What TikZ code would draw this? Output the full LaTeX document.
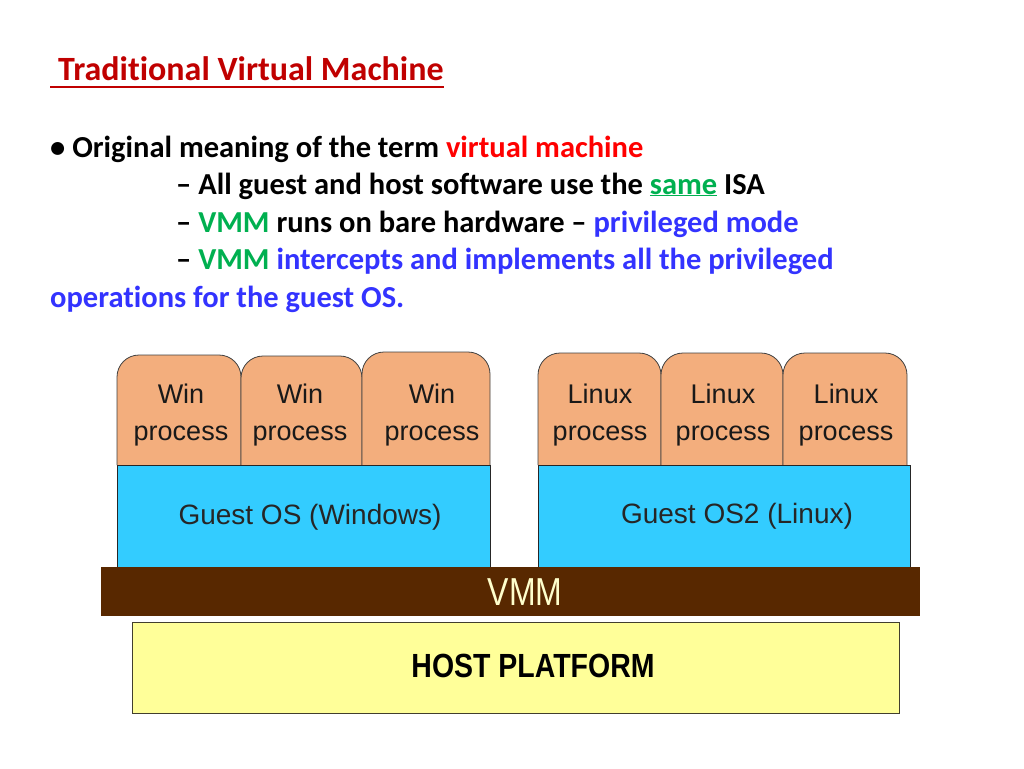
\documentclass[tikz,border=0pt]{standalone}
\usepackage{fontspec}
\setmainfont[Ligatures={NoCommon}]{Carlito}
\newfontfamily\arialf{Liberation Sans}
\definecolor{titlered}{HTML}{C00000}
\definecolor{vred}{HTML}{FF0000}
\definecolor{vgreen}{HTML}{00B050}
\definecolor{vblue}{HTML}{3333FF}
\definecolor{procfill}{HTML}{F3AE7D}
\definecolor{osfill}{HTML}{33CCFF}
\definecolor{vmmfill}{HTML}{582800}
\definecolor{hostfill}{HTML}{FFFF99}
\definecolor{vmmtext}{HTML}{FFFFCC}
\tikzset{
  txt/.style={anchor=base west, inner sep=0pt, font=\fontsize{30.5}{37}\selectfont\bfseries},
  proc/.style={fill=procfill, draw=black!75, line width=0.8pt, rounded corners=22},
  ptext/.style={align=center, inner sep=0pt, font=\arialf\fontsize{27}{37}\selectfont, text=black!90},
  osbox/.style={fill=osfill, draw=black!85, line width=0.8pt},
  ostext/.style={inner sep=0pt, font=\arialf\fontsize{28}{34}\selectfont, text=black!85}
}
\begin{document}
\begin{tikzpicture}[x=1pt,y=-1pt]
\useasboundingbox (0,0) rectangle (1024,768);
% title
\node[txt, text=titlered, font=\fontsize{34}{42}\selectfont\bfseries] (title) at (58,80) {Traditional Virtual Machine};
\draw[titlered, line width=2pt] (50,87) -- (444,87);
% bullets
\node[txt] (l1) at (50,157) {• Original meaning of the term \textcolor{vred}{virtual machine}};
\node[txt] (l2) at (176,194) {– All guest and host software use the \textcolor{vgreen}{\underline{same}} ISA};
\node[txt] (l3) at (176,232) {– \textcolor{vgreen}{VMM} runs on bare hardware – \textcolor{vblue}{privileged mode}};
\node[txt] (l4) at (176,269) {– \textcolor{vgreen}{VMM} \textcolor{vblue}{intercepts and implements all the privileged}};
\node[txt, text=vblue] (l5) at (50,307) {operations for the guest OS.};
% win processes
\path[proc] (117,465) -- (117,355) -- (241,355) -- (241,465);
\path[proc] (241,465) -- (241,356) -- (362,356) -- (362,465);
\path[proc] (362,465) -- (362,352) -- (490,352) -- (490,465);
\node[ptext] (w1) at (181,415) {Win\\process};
\node[ptext] (w2) at (300,415) {Win\\process};
\node[ptext] (w3) at (432,415) {Win\\process};
% linux processes
\path[proc] (538,465) -- (538,353) -- (661,353) -- (661,465);
\path[proc] (661,465) -- (661,353) -- (783,353) -- (783,465);
\path[proc] (783,465) -- (783,353) -- (907,353) -- (907,465);
\node[ptext] (x1) at (600,415) {Linux\\process};
\node[ptext] (x2) at (723,415) {Linux\\process};
\node[ptext] (x3) at (846,415) {Linux\\process};
% guest OS
\draw[osbox] (117,465) rectangle (490,567);
\draw[osbox] (538,465) rectangle (910,567);
\node[ostext] (gos1) at (310,517) {Guest OS (Windows)};
\node[ostext] (gos2) at (737,516) {Guest OS2 (Linux)};
% VMM
\fill[vmmfill] (101,567) rectangle (920,616);
\node[inner sep=0pt, text=vmmtext, font=\arialf\fontsize{39}{44}\selectfont, xscale=0.82] (vmm) at (525,592) {VMM};
% host
\draw[fill=hostfill, draw=black!70!olive, line width=0.8pt] (132,622) rectangle (899,713);
\node[inner sep=0pt, font=\arialf\bfseries\fontsize{33.5}{40}\selectfont, xscale=0.85] (host) at (533,666) {HOST PLATFORM};
\end{tikzpicture}
\end{document}
